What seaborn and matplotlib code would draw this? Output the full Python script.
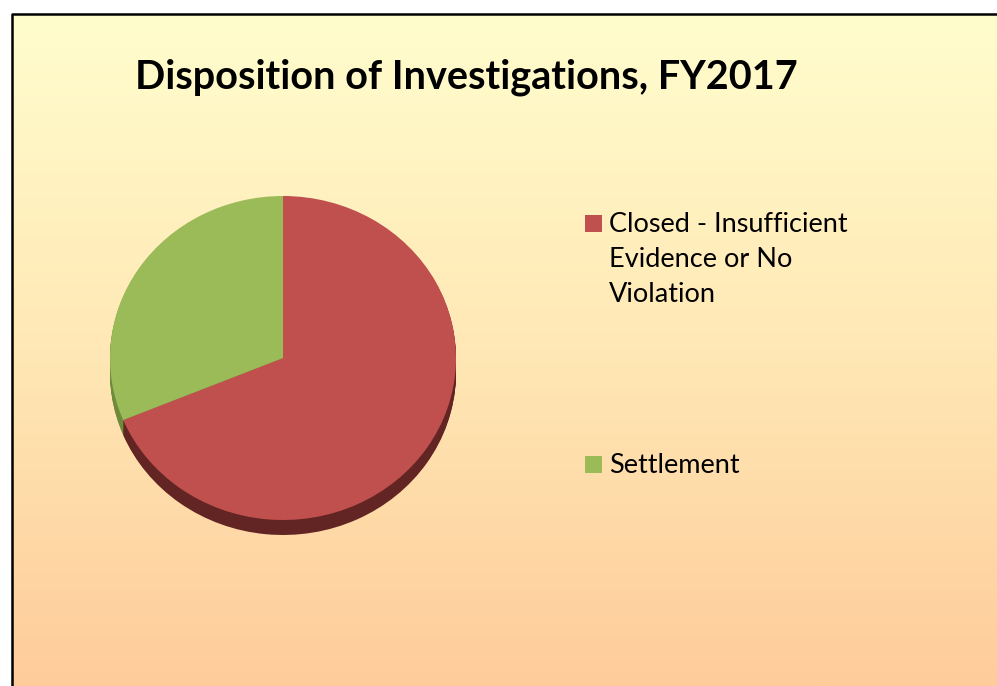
import numpy as np
import matplotlib
matplotlib.use("Agg")
import matplotlib.pyplot as plt
import seaborn as sns
from matplotlib.patches import Rectangle
from matplotlib.colors import LinearSegmentedColormap

categories = ["Closed - Insufficient\nEvidence or No\nViolation", "Settlement"]
values = [68.75, 31.25]
top_colors = ["#C0504D", "#9BBB59"]
side_colors = ["#632523", "#6E8A3A"]
title = "Disposition of Investigations, FY2017"

sns.set_style("white")
plt.rcParams["font.family"] = ["Lato", "DejaVu Sans"]

W, H = 997, 686
fig = plt.figure(figsize=(W / 100, H / 100), dpi=100)
fig.patch.set_facecolor("white")

# background frame with gradient
bg = fig.add_axes([0, 0, 1, 1])
bg.set_xlim(0, W)
bg.set_ylim(H, 0)
bg.axis("off")
cmap = LinearSegmentedColormap.from_list("bg", ["#FFFDCD", "#FFE8B5", "#FECC9A"])
grad = np.linspace(0, 1, 256).reshape(-1, 1)
bg.imshow(grad, cmap=cmap, extent=[12, W, H, 14], aspect="auto", zorder=0)
bg.plot([12, 12, W], [H, 14, 14], color="black", lw=1.8, zorder=2)

bg.text(135, 88, title, fontsize=28.5, fontweight="bold", color="black",
        ha="left", va="baseline")

# pie
cx, cy, rx, ry = 283, 358, 173, 162
m = 1.2
aw, ah = 2 * rx * m, 2 * ry * m
ax = fig.add_axes([(cx - aw / 2) / W, (H - (cy + ah / 2)) / H, aw / W, ah / H])
ax.axis("off")
depth = 15 / ry
n_layers = 16
for i in range(n_layers, 0, -1):
    off = depth * i / n_layers
    ax.pie(values, colors=side_colors, startangle=90, counterclock=False,
           center=(0, -off), radius=1, wedgeprops=dict(linewidth=0))
ax.pie(values, colors=top_colors, startangle=90, counterclock=False,
       center=(0, 0), radius=1, wedgeprops=dict(linewidth=0))
ax.set_aspect("auto")
ax.set_xlim(-m, m)
ax.set_ylim(-m, m)

# legend
leg_y = [232, 473]
for lab, col, yb in zip(categories, top_colors, leg_y):
    bg.add_patch(Rectangle((585, yb - 17), 17, 17, facecolor=col, edgecolor="none", zorder=3))
    for k, line in enumerate(lab.split("\n")):
        bg.text(609, yb + 35 * k, line, fontsize=19.5, color="black",
                ha="left", va="baseline")

fig.savefig("out.png", dpi=100)
